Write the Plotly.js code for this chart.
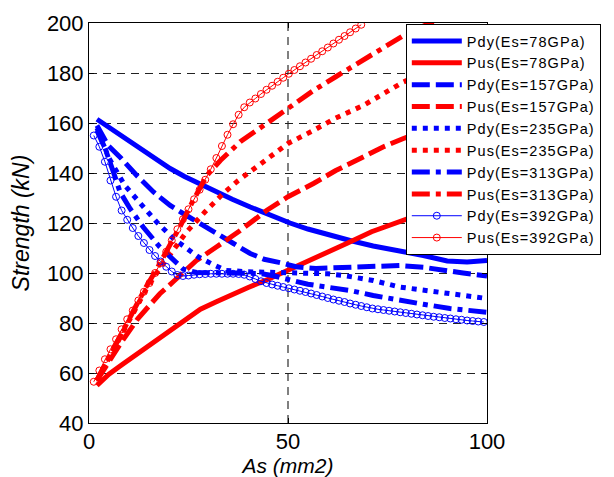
<!DOCTYPE html>
<html>
<head>
<meta charset="utf-8">
<script src="https://cdn.plot.ly/plotly-3.0.1.min.js"></script>
<style>
html,body{margin:0;padding:0;background:#fff;}
#chart{width:614px;height:477px;}
text.legendtext{letter-spacing:1.05px;}
</style>
</head>
<body>
<div id="chart"></div>
<script>
// ---- data ----
const seriesNames = ["Pdy(Es=78GPa)","Pus(Es=78GPa)","Pdy(Es=157GPa)","Pus(Es=157GPa)","Pdy(Es=235GPa)","Pus(Es=235GPa)","Pdy(Es=313GPa)","Pus(Es=313GPa)","Pdy(Es=392GPa)","Pus(Es=392GPa)"];

const xPdy78 = [2, 5, 8, 11, 14, 17.3, 20.4, 24, 28, 32, 36, 40.5, 45, 50.5, 55, 60, 65.6, 71.4, 78, 84, 90, 95, 100];
const yPdy78 = [161.5, 158.3, 155, 151.7, 148.4, 145, 141.8, 138.6, 135.4, 132.3, 129.5, 126.4, 123.4, 120, 117.6, 115.3, 113, 110.8, 109, 107, 104.8, 104.4, 105];

const xPus78 = [2, 5, 8, 12, 16, 20, 24, 28, 32, 36, 40, 45, 50, 55, 60, 65, 71, 79, 85, 92, 100];
const yPus78 = [55, 59.5, 63, 67.5, 72, 77, 81.5, 85.5, 88.5, 91.5, 94.2, 97.5, 101, 104.5, 108, 112, 116.5, 121, 124.5, 127.5, 130];

const xPdy157 = [2, 4.8, 8, 12, 16.2, 20.4, 24.5, 29.6, 33, 36.3, 40.5, 44, 48.7, 52, 57, 63, 71.4, 78, 84, 89, 94, 100];
const yPdy157 = [159, 151, 146, 139, 132.4, 127, 123, 118.4, 115, 111.8, 107.8, 105.5, 103.9, 102.5, 101.8, 102.2, 102.4, 103, 102.3, 101, 100, 98.8];

const xPus157 = [2, 5, 8, 12.3, 16, 17.8, 21.5, 27, 32, 38, 44.6, 50, 56.4, 62, 68.9, 74, 79, 85, 92, 100];
const yPus157 = [57, 64.5, 72, 81.8, 88.5, 91.7, 97, 105, 110.4, 117, 125, 130.5, 135.8, 141, 146.4, 150.5, 153.8, 157.5, 161.5, 166];

const xPdy235 = [2, 5, 9, 12.8, 17, 21.2, 24.5, 27.5, 31, 34.5, 40, 45, 50, 55, 60, 64, 71.4, 78, 85, 92, 100];
const yPdy235 = [158, 146, 135, 127.8, 120.4, 113.8, 109.8, 106.4, 103.5, 101, 100.5, 100.4, 100.3, 100, 99.7, 99, 97, 94.4, 92.8, 91.5, 89.8];

const xPus235 = [2, 5, 8, 11, 14, 17, 19.5, 21.6, 24.5, 29.1, 33.7, 37.5, 44, 50, 56.4, 62, 68.9, 74, 79, 85, 92, 100];
const yPus235 = [57, 66, 75, 84, 92.5, 100, 105.5, 110.4, 116.4, 124.4, 131.8, 137, 145, 151.8, 157, 162, 167, 171.8, 176.4, 180.5, 185, 190];

const xPdy313 = [2, 4, 6, 7.8, 10.3, 13.6, 17.8, 21.2, 23.7, 27, 32, 38, 43, 46, 50.5, 55, 60, 65.6, 71.4, 78, 84, 90.7, 100];
const yPdy313 = [157, 150, 141, 132.4, 125.8, 118.4, 110.4, 105, 101.5, 100.2, 100, 100, 99.8, 99, 97, 95.5, 94.3, 93, 91, 89, 87.5, 85.8, 84.3];

const xPus313 = [2, 5, 8, 11, 14, 17, 20, 23, 26, 29.6, 33, 38, 44.6, 50.1, 56.4, 62, 68.9, 74, 79, 85, 92, 100];
const yPus313 = [57, 66, 75.5, 85, 93.5, 101.5, 110, 119, 128.5, 139, 145, 152.5, 159.8, 165.8, 173, 178.5, 185, 190, 195, 199.5, 204, 209];

const xPdy392 = [1.2, 2.6, 4.0, 5.4, 6.8, 8.2, 9.6, 11.0, 12.4, 13.8, 15.2, 16.6, 18.0, 19.4, 20.8, 22.2, 23.6, 25.0, 26.4, 27.8, 29.2, 30.6, 32.0, 33.4, 34.8, 36.2, 37.6, 39.0, 40.4, 41.8, 43.2, 44.6, 46.0, 47.4, 48.8, 50.2, 51.6, 53.0, 54.4, 55.8, 57.2, 58.6, 60.0, 61.4, 62.8, 64.2, 65.6, 67.0, 68.4, 69.8, 71.2, 72.6, 74.0, 75.4, 76.8, 78.2, 79.6, 81.0, 82.4, 83.8, 85.2, 86.6, 88.0, 89.4, 90.8, 92.2, 93.6, 95.0, 96.4, 97.8, 99.2];
const yPdy392 = [155, 150.5, 144.5, 137, 130.5, 125, 121.3, 118, 114.8, 112, 109.2, 106.8, 104.6, 102.5, 100.6, 99.2, 98.8, 99, 99.3, 99.5, 99.6, 99.7, 99.7, 99.7, 99.7, 99.7, 99.6, 99.3, 98.6, 97.6, 96.7, 96.0, 95.4, 94.9, 94.4, 93.9, 93.4, 92.9, 92.4, 91.8, 91.2, 90.6, 90.0, 89.4, 88.9, 88.4, 87.8, 87.3, 86.8, 86.3, 85.8, 85.5, 85.2, 84.9, 84.6, 84.3, 84.0, 83.7, 83.4, 83.1, 82.8, 82.5, 82.3, 82.0, 81.8, 81.5, 81.3, 81.0, 80.8, 80.6, 80.4];

const xPus392 = [1.2, 2.6, 4.0, 5.4, 6.8, 8.2, 9.6, 11.0, 12.4, 13.8, 15.2, 16.6, 18.0, 19.4, 20.8, 22.2, 23.6, 25.0, 26.4, 27.8, 29.2, 30.6, 32.0, 33.4, 34.8, 36.2, 37.6, 39.0, 40.4, 41.8, 43.2, 44.6, 46.0, 47.4, 48.8, 50.2, 51.6, 53.0, 54.4, 55.8, 57.2, 58.6, 60.0, 61.4, 62.8, 64.2, 65.6, 67.0, 68.4];
const yPus392 = [56.5, 61, 65.5, 69.5, 73.5, 77.5, 81.5, 85, 89, 92.5, 96, 100, 104, 108.5, 113, 117.5, 121.5, 125.5, 129.5, 133.3, 137.3, 141.5, 146, 150.8, 155.3, 159.5, 163.3, 166.3, 168.2, 169.8, 171.6, 173.3, 174.9, 176.5, 178.1, 179.7, 181.2, 182.7, 184.2, 185.7, 187.2, 188.7, 190.2, 191.8, 193.3, 194.8, 196.3, 197.8, 199.3];

const xTicks = [0, 50, 100];
const yTicks = [40, 60, 80, 100, 120, 140, 160, 180, 200];

// ---- styles ----
const BLUE = "#0000ff", RED = "#ff0000";
const DASH = "18px,6px", DOT = "5px,6px", DASHDOT = "18px,6px,5px,6px";
const W = 5;

function thick(name, x, y, color, dash, i) {
  return {type: "scatter", mode: "lines", name: name, x: x, y: y, legendgroup: "g" + i,
          line: {color: color, width: W, dash: dash}, cliponaxis: true};
}
function circ(name, x, y, color, i) {
  return {type: "scatter", mode: "lines+markers", name: name, x: x, y: y, legendgroup: "g" + i,
          line: {color: color, width: 1},
          marker: {symbol: "circle-open", size: 7, color: color, line: {color: color, width: 1}}};
}

const data = [
  thick(seriesNames[0], xPdy78, yPdy78, BLUE, "solid", 0),
  thick(seriesNames[1], xPus78, yPus78, RED, "solid", 1),
  thick(seriesNames[2], xPdy157, yPdy157, BLUE, DASH, 2),
  thick(seriesNames[3], xPus157, yPus157, RED, DASH, 3),
  thick(seriesNames[4], xPdy235, yPdy235, BLUE, DOT, 4),
  thick(seriesNames[5], xPus235, yPus235, RED, DOT, 5),
  thick(seriesNames[6], xPdy313, yPdy313, BLUE, DASHDOT, 6),
  thick(seriesNames[7], xPus313, yPus313, RED, DASHDOT, 7),
  circ(seriesNames[8], xPdy392, yPdy392, BLUE, 8),
  circ(seriesNames[9], xPus392, yPus392, RED, 9)
];

const FONT = "Liberation Sans, Arial, sans-serif";
const layout = {
  width: 614, height: 477,
  margin: {l: 89, r: 127, t: 23, b: 54, pad: 0},
  paper_bgcolor: "#fff", plot_bgcolor: "#fff",
  font: {family: FONT, color: "#000"},
  showlegend: true,
  xaxis: {
    range: [0, 100], tickvals: xTicks, ticktext: xTicks.map(String),
    ticks: "inside", ticklen: 5, tickcolor: "#000", tickwidth: 1,
    showline: true, linecolor: "#000", linewidth: 1, mirror: "ticks",
    showgrid: true, gridcolor: "#808080", gridwidth: 1.5, griddash: "8px,6px",
    zeroline: false, tickfont: {size: 22, family: FONT, color: "#000"},
    ticklabelstandoff: -1,
    title: {text: "As (mm2)", font: {size: 21, family: FONT, style: "italic", color: "#000"}, standoff: 14}
  },
  yaxis: {
    range: [40, 200], tickvals: yTicks, ticktext: yTicks.map(String),
    ticks: "inside", ticklen: 5, tickcolor: "#000", tickwidth: 1,
    showline: true, linecolor: "#000", linewidth: 1, mirror: "ticks",
    showgrid: true, gridcolor: "#222", gridwidth: 1, griddash: "8px,6px",
    zeroline: false, tickfont: {size: 22, family: FONT, color: "#000"},
    title: {text: "Strength (kN)", font: {size: 23, family: FONT, style: "italic", color: "#000"}, standoff: 10}
  },
  legend: {
    x: 0.796, y: 0.9975, xanchor: "left", yanchor: "top",
    bgcolor: "#fff", bordercolor: "#000", borderwidth: 1,
    font: {size: 14.5, family: FONT, color: "#000"},
    itemwidth: 50, tracegroupgap: 0, traceorder: "normal"
  }
};

Plotly.newPlot("chart", data, layout, {staticPlot: true, displayModeBar: false});
</script>
</body>
</html>
